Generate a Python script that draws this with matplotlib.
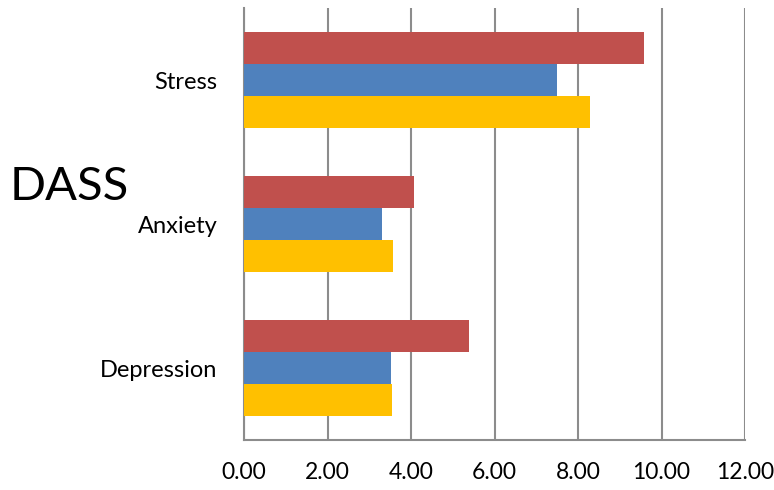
import numpy as np
import matplotlib.pyplot as plt

categories = ["Depression", "Anxiety", "Stress"]
series_red = [5.40, 4.08, 9.59]
series_blue = [3.52, 3.31, 7.49]
series_yellow = [3.55, 3.58, 8.29]
x_ticks = [0, 2, 4, 6, 8, 10, 12]

plt.rcParams["font.family"] = ["Lato", "DejaVu Sans"]

fig = plt.figure(figsize=(7.74, 4.9), dpi=100)
ax = fig.add_axes([244 / 774, 50 / 490, 501 / 774, 432 / 490])

# three bars per category: yellow at the bottom, red on top
y = np.arange(len(categories))
h = 0.222
ax.barh(y - h, series_yellow, h, color="#FFC000", zorder=3)
ax.barh(y, series_blue, h, color="#4F81BD", zorder=3)
ax.barh(y + h, series_red, h, color="#C0504D", zorder=3)

ax.set_xlim(0, 12)
ax.set_ylim(-0.5, 2.5)
ax.set_xticks(x_ticks, labels=[f"{v:.2f}" for v in x_ticks], fontsize=16.5)
ax.set_yticks(y, labels=categories, fontsize=17)
ax.tick_params(axis="x", length=0, pad=16)
ax.tick_params(axis="y", length=0, pad=19)
ax.grid(axis="x", color="#8c8c8c", linewidth=1.5, zorder=0)

for side in ["top", "right"]:
    ax.spines[side].set_visible(False)
for side in ["left", "bottom"]:
    ax.spines[side].set_color("#8c8c8c")
    ax.spines[side].set_linewidth(1.5)

fig.text(10 / 774, 1 - 187 / 490, "DASS", fontsize=34, va="center", ha="left")

plt.savefig("out.png", dpi=100)
plt.close(fig)
